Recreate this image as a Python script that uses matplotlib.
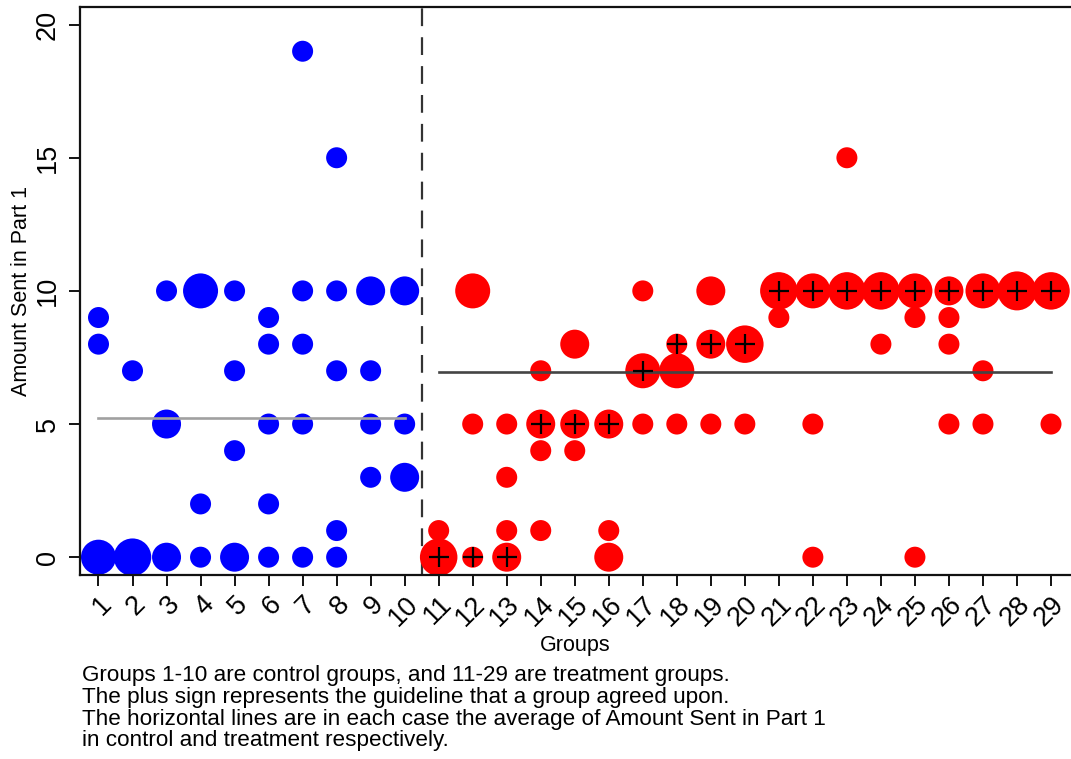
import numpy as np
import matplotlib
matplotlib.use("Agg")
from matplotlib import pyplot as plt

plt.rcParams['font.family'] = ['Liberation Sans', 'DejaVu Sans']

# control groups 1-10: (group, amount sent, number of members)
ctrl_group = [1, 1, 1, 2, 2, 3, 3, 3, 4, 4, 4, 5, 5, 5, 5,
              6, 6, 6, 6, 6, 7, 7, 7, 7, 7, 8, 8, 8, 8, 8,
              9, 9, 9, 9, 10, 10, 10]
ctrl_amount = [9, 8, 0, 7, 0, 10, 5, 0, 10, 2, 0, 10, 7, 4, 0,
               9, 8, 5, 2, 0, 19, 10, 8, 5, 0, 15, 10, 7, 1, 0,
               10, 7, 5, 3, 10, 5, 3]
ctrl_count = [1, 1, 3, 1, 4, 1, 2, 2, 3, 1, 1, 1, 1, 1, 2,
              1, 1, 1, 1, 1, 1, 1, 1, 1, 1, 1, 1, 1, 1, 1,
              2, 1, 1, 1, 2, 1, 2]

# treatment groups 11-29
treat_group = [11, 11, 12, 12, 12, 13, 13, 13, 13, 14, 14, 14, 14,
               15, 15, 15, 16, 16, 16, 17, 17, 17, 18, 18, 18,
               19, 19, 19, 20, 20, 21, 21, 22, 22, 22, 23, 23,
               24, 24, 25, 25, 25, 26, 26, 26, 26, 27, 27, 27,
               28, 29, 29]
treat_amount = [1, 0, 10, 5, 0, 5, 3, 1, 0, 7, 5, 4, 1,
                8, 5, 4, 5, 1, 0, 10, 7, 5, 8, 7, 5,
                10, 8, 5, 8, 5, 10, 9, 10, 5, 0, 15, 10,
                10, 8, 10, 9, 0, 10, 9, 8, 5, 10, 7, 5,
                10, 10, 5]
treat_count = [1, 4, 3, 1, 1, 1, 1, 1, 2, 1, 2, 1, 1,
               2, 2, 1, 2, 1, 2, 1, 3, 1, 1, 3, 1,
               2, 2, 1, 4, 1, 4, 1, 3, 1, 1, 1, 4,
               4, 1, 3, 1, 1, 2, 1, 1, 1, 3, 1, 1,
               5, 4, 1]

# agreed guideline per treatment group
guide_group = list(range(11, 30))
guide_amount = [0, 0, 0, 5, 5, 5, 7, 8, 8, 8, 10, 10, 10, 10, 10, 10, 10, 10, 10]

notes = ["Groups 1-10 are control groups, and 11-29 are treatment groups.",
         "The plus sign represents the guideline that a group agreed upon.",
         "The horizontal lines are in each case the average of Amount Sent in Part 1",
         "in control and treatment respectively."]

dpi = 100
fig = plt.figure(figsize=(10.71, 7.59), dpi=dpi)
ax = fig.add_axes([80.3 / 1071, 1 - 574.5 / 759, 1 - 80.3 / 1071, (574.5 - 6.5) / 759])

# marker diameter in px for a given number of members
diam = {1: 21, 2: 29, 3: 35, 4: 37.5, 5: 39}
def sizes(counts):
    return [(diam[c] * 72.0 / dpi) ** 2 for c in counts]

ax.scatter(ctrl_group, ctrl_amount, s=sizes(ctrl_count), c='#0000ff',
           edgecolors='none', zorder=2, clip_on=False)
ax.scatter(treat_group, treat_amount, s=sizes(treat_count), c='#ff0000',
           edgecolors='none', zorder=2, clip_on=False)

# weighted averages
ctrl_mean = np.average(ctrl_amount, weights=ctrl_count)
treat_mean = np.average(treat_amount, weights=treat_count)
ax.plot([min(ctrl_group), max(ctrl_group)], [ctrl_mean] * 2, color='#a0a0a0', lw=1.9, zorder=3)
ax.plot([min(treat_group), max(treat_group)], [treat_mean] * 2, color='#444444', lw=1.9, zorder=3)

ax.plot(guide_group, guide_amount, ls='none', marker='+', ms=15, mew=1.6,
        color='black', zorder=4, clip_on=False)

ax.axvline(10.5, color='#333333', lw=1.6, dashes=(8, 5), zorder=1)

ax.set_xlim(1 - 18.2 / 34.02, 29 + 20 / 34.02)
ax.set_ylim(-0.65, 20.68)

ax.set_xticks(range(1, 30))
ax.set_xticklabels([str(i) for i in range(1, 30)], rotation=45, ha='right',
                   rotation_mode='anchor', fontsize=19.5)
ax.set_yticks([0, 5, 10, 15, 20])
ax.set_yticklabels(['0', '5', '10', '15', '20'], rotation=90, va='center', fontsize=19.5)
ax.tick_params(axis='both', direction='out', length=8, width=1.3, color='black')
ax.tick_params(axis='x', pad=4)
ax.tick_params(axis='y', pad=6)

ax.spines['right'].set_visible(False)
for side in ['left', 'bottom', 'top']:
    ax.spines[side].set_linewidth(1.6)
    ax.spines[side].set_color('#111111')

ax.set_xlabel('Groups', fontsize=15.5, labelpad=3)
ax.set_ylabel('Amount Sent in Part 1', fontsize=15.5, labelpad=2)

for i, line in enumerate(notes):
    fig.text(82 / 1071, 1 - (676 + i * 21.5) / 759, line, fontsize=16.2,
             va='center', ha='left')

fig.savefig('out.png', dpi=dpi)
